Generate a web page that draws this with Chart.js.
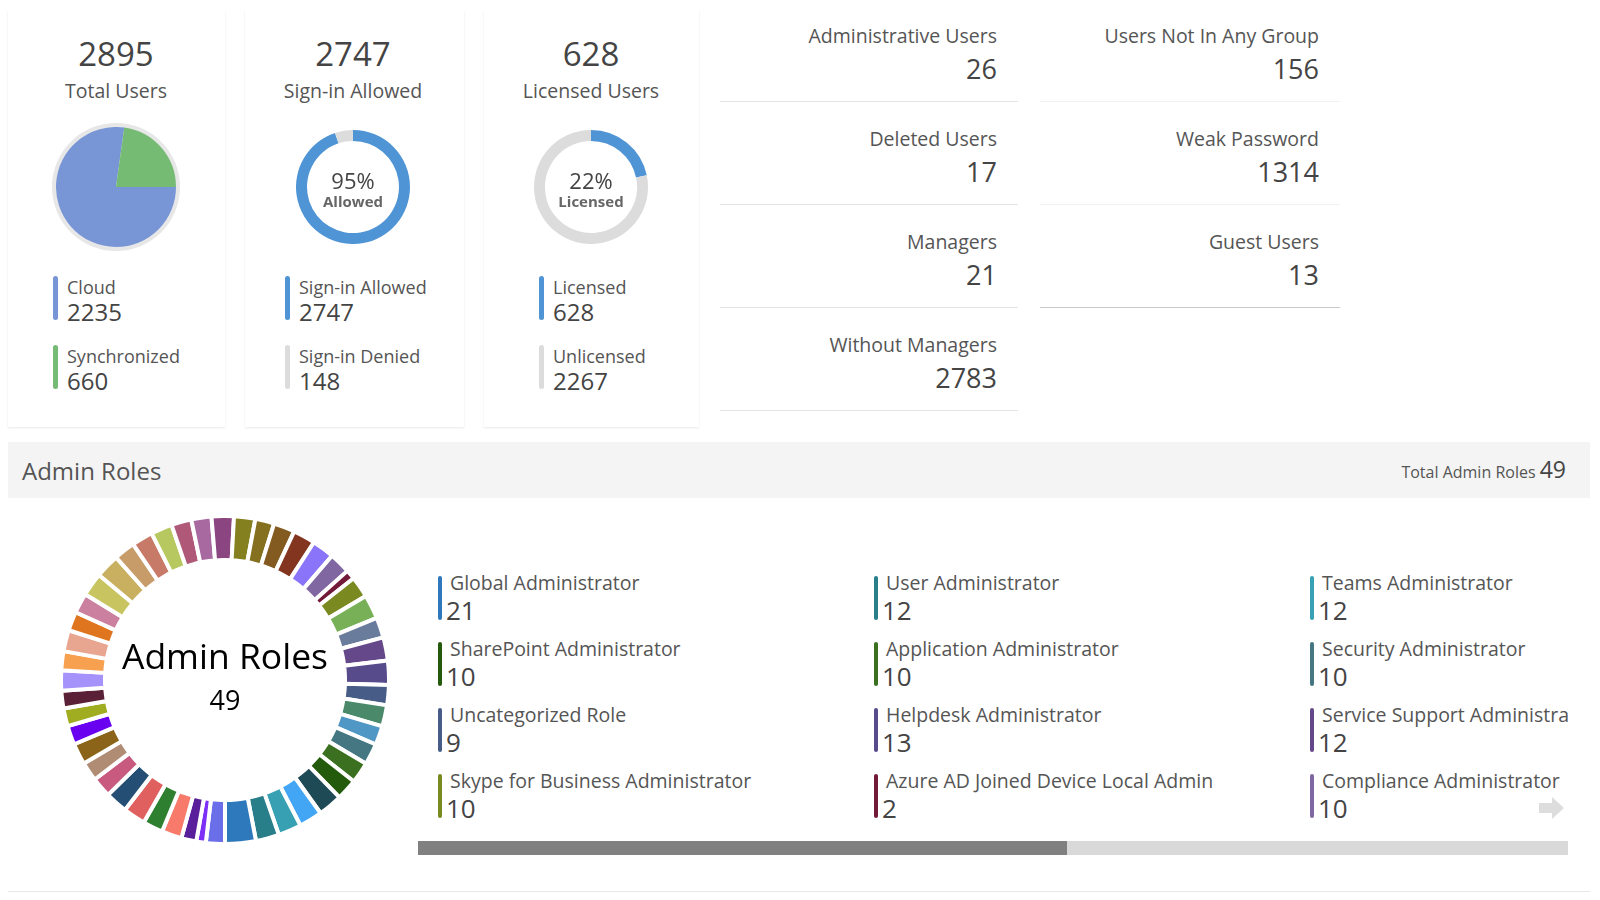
<!DOCTYPE html>
<html>
<head>
<meta charset="utf-8">
<script src="https://cdn.jsdelivr.net/npm/chart.js@4.4.0/dist/chart.umd.min.js"></script>
<style>
  body { margin: 0; width: 1600px; height: 900px; background: #fff; font-family: "Open Sans", sans-serif; color: #555; overflow: hidden; position: relative; }
  .abs { position: absolute; line-height: 1; white-space: nowrap; }
  .card { position: absolute; top: 10px; height: 417px; background: #fff; box-shadow: 0 1px 2px rgba(0,0,0,0.09); }
  .big { font-size: 33px; color: #444; text-align: center; width: 300px; }
  .sub { font-size: 19.5px; color: #555; text-align: center; width: 300px; }
  .bar { position: absolute; width: 5px; border-radius: 3px; }
  .lgLabel { font-size: 18px; color: #555; }
  .lgValue { font-size: 24px; color: #444; }
  .roleLabel { font-size: 19.5px; color: #555; }
  .roleValue { font-size: 26px; color: #444; }
  .statBox { position: absolute; height: 100px; border-bottom: 1px solid #e4e4e4; }
  .statLabel { font-size: 19.5px; color: #555; text-align: right; }
  .statValue { font-size: 27px; color: #444; text-align: right; }
  .chartBox { position: absolute; }
  #roleLegend { position: absolute; left: 418px; top: 570px; width: 1150px; height: 262px; overflow: hidden; }
  .roleItem { position: absolute; width: 430px; height: 60px; }
</style>
</head>
<body>

<div class="card" style="left:8px;width:217px"></div>
<div class="card" style="left:245px;width:219px"></div>
<div class="card" style="left:484px;width:215px"></div>

<div id="top"></div>

<div class="abs" style="left:8px;top:442px;width:1582px;height:56px;background:#f4f4f4"></div>
<div class="abs" style="left:22px;top:459px;font-size:24px;color:#555">Admin Roles</div>
<div class="abs" id="totalRoles" style="right:34px;top:458px;color:#555;display:flex;align-items:baseline"></div>

<div class="chartBox" style="left:59px;top:514px;width:332px;height:332px"><canvas id="rolesChart"></canvas></div>
<div class="abs" style="left:75px;top:638px;width:300px;text-align:center;font-size:35.5px;color:#000">Admin Roles</div>
<div class="abs" id="rolesCenter" style="left:75px;top:686px;width:300px;text-align:center;font-size:27px;color:#000"></div>

<div id="roleLegend"></div>
<div class="abs" style="left:418px;top:841px;width:1150px;height:14px;background:#d9d9d9"></div>
<div class="abs" style="left:418px;top:841px;width:649px;height:14px;background:#808080"></div>
<svg class="abs" style="left:1539px;top:797px" width="26" height="22" viewBox="0 0 26 22">
  <path d="M0 6 H13 V0 L25 11 L13 22 V16 H0 Z" fill="#dddddd"/>
</svg>
<div class="abs" style="left:8px;top:891px;width:1582px;height:1px;background:#e8e8e8"></div>

<script>
// user overview
var userSplitLabels = ['Cloud', 'Synchronized'];
var userSplitValues = [2235, 660];
var signInLabels = ['Sign-in Allowed', 'Sign-in Denied'];
var signInValues = [2747, 148];
var licenseLabels = ['Licensed', 'Unlicensed'];
var licenseValues = [628, 2267];

var statLabelsLeft = ['Administrative Users', 'Deleted Users', 'Managers', 'Without Managers'];
var statValuesLeft = [26, 17, 21, 2783];
var statLabelsRight = ['Users Not In Any Group', 'Weak Password', 'Guest Users'];
var statValuesRight = [156, 1314, 13];

// admin roles, in legend order (row by row, 5 per row)
var roleNames = [
  'Global Administrator', 'User Administrator', 'Teams Administrator', 'Exchange Administrator', 'Intune Administrator',
  'SharePoint Administrator', 'Application Administrator', 'Security Administrator', 'Billing Administrator', 'Cloud Application Administrator',
  'Uncategorized Role', 'Helpdesk Administrator', 'Service Support Administrator', 'Reports Reader', 'Power BI Administrator',
  'Skype for Business Administrator', 'Azure AD Joined Device Local Admin', 'Compliance Administrator', 'Password Administrator', 'Privileged Role Administrator',
  'Security Reader', 'Guest Inviter', 'Conditional Access Administrator', 'Directory Readers', 'Directory Writers',
  'Authentication Administrator', 'License Administrator', 'Groups Administrator', 'Message Center Reader', 'Dynamics 365 Administrator',
  'Power Platform Administrator', 'Search Administrator', 'Search Editor', 'Insights Administrator', 'Printer Administrator',
  'Office Apps Administrator', 'Global Reader', 'Security Operator', 'Knowledge Administrator', 'Network Administrator',
  'Teams Communications Administrator', 'Teams Devices Administrator', 'Hybrid Identity Administrator', 'Application Developer', 'Kaizala Administrator',
  'Azure Information Protection Administrator', 'External Identity Provider Administrator', 'Privileged Authentication Administrator', 'Device Administrators'
];
var roleCounts = [
  21, 12, 12, 12, 13,
  10, 10, 10, 8, 10,
  9, 13, 12, 9, 13,
  10, 2, 10, 11, 11,
  10, 8, 10, 11, 9,
  9, 10, 10, 10, 13,
  12, 9, 8, 10, 8,
  9, 7, 7, 8, 10,
  8, 9, 11, 11, 9,
  9, 5, 2, 8
];

var roleColors = [
  '#2e78bc', '#287f89', '#37a1b3', '#42a6f5', '#1e4a55',
  '#245a0c', '#3a7020', '#457782', '#5097c5', '#4a8a6a',
  '#475c86', '#574b8c', '#654889', '#6a7c9c', '#78b058',
  '#7a8a21', '#731a38', '#8067a2', '#8a75fa', '#843520',
  '#835a20', '#857020', '#848020', '#8b4580', '#a868a0',
  '#b05878', '#b8c860', '#c87a68', '#c89c68', '#c8b060',
  '#c8c460', '#cc80a0', '#e07520', '#e8a590', '#f7a050',
  '#a593fb', '#5a2035', '#a0ad20', '#6a00f0', '#8b6419',
  '#b08c74', '#c85a80', '#254e74', '#e06060', '#2e8030',
  '#f77a6b', '#5a1f9a', '#7b2ff7', '#6a6ee8'
];

var blue = '#4f94d4', grey = '#dcdcdc';

function sum(a) { return a.reduce(function (s, v) { return s + v; }, 0); }
function el(html) { document.getElementById('top').insertAdjacentHTML('beforeend', html); }

var totalUsers = sum(userSplitValues);

// three summary cards
var cards = [
  { cx: 116, big: totalUsers, sub: 'Total Users', labels: userSplitLabels, values: userSplitValues, colors: ['#7896d6', '#76bb74'], barX: 53 },
  { cx: 353, big: signInValues[0], sub: 'Sign-in Allowed', labels: signInLabels, values: signInValues, colors: [blue, grey], barX: 285,
    pct: Math.round(signInValues[0] / sum(signInValues) * 100), word: 'Allowed' },
  { cx: 591, big: licenseValues[0], sub: 'Licensed Users', labels: licenseLabels, values: licenseValues, colors: [blue, grey], barX: 539,
    pct: Math.round(licenseValues[0] / sum(licenseValues) * 100), word: 'Licensed' }
];

cards.forEach(function (c, i) {
  el('<div class="abs big" style="left:' + (c.cx - 150) + 'px;top:37px">' + c.big + '</div>');
  el('<div class="abs sub" style="left:' + (c.cx - 150) + 'px;top:81px">' + c.sub + '</div>');
  c.labels.forEach(function (lab, j) {
    var y = 276 + j * 69;
    el('<div class="bar" style="left:' + c.barX + 'px;top:' + y + 'px;height:44px;background:' + c.colors[j] + '"></div>');
    el('<div class="abs lgLabel" style="left:' + (c.barX + 14) + 'px;top:' + (y + 2) + 'px">' + lab + '</div>');
    el('<div class="abs lgValue" style="left:' + (c.barX + 14) + 'px;top:' + (y + 24) + 'px">' + c.values[j] + '</div>');
  });
  if (i === 0) {
    el('<div class="abs" style="left:' + (c.cx - 64) + 'px;top:123px;width:128px;height:128px;border-radius:50%;background:#e7e7e7"></div>');
    el('<div class="chartBox" style="left:' + (c.cx - 60) + 'px;top:127px;width:120px;height:120px"><canvas id="chart' + i + '"></canvas></div>');
  } else {
    el('<div class="chartBox" style="left:' + (c.cx - 57) + 'px;top:130px;width:114px;height:114px"><canvas id="chart' + i + '"></canvas></div>');
    el('<div class="abs" style="left:' + (c.cx - 60) + 'px;top:169px;width:120px;text-align:center;font-size:22px;color:#444">' + c.pct + '%</div>');
    el('<div class="abs" style="left:' + (c.cx - 60) + 'px;top:194px;width:120px;text-align:center;font-size:15px;font-weight:bold;color:#666">' + c.word + '</div>');
  }
});

// stat boxes
function statColumn(labels, values, x0, x1, lastDark) {
  labels.forEach(function (lab, i) {
    var top = 1 + i * 103;
    var border = (lastDark && i === labels.length - 1) ? '#c8c8c8' : (lastDark ? '#f1f1f1' : '#e4e4e4');
    el('<div class="statBox" style="left:' + x0 + 'px;top:' + top + 'px;width:' + (x1 - x0) + 'px;border-bottom-color:' + border + '"></div>');
    el('<div class="abs statLabel" style="left:' + x0 + 'px;width:' + (x1 - x0 - 21) + 'px;top:' + (26 + i * 103) + 'px">' + lab + '</div>');
    el('<div class="abs statValue" style="left:' + x0 + 'px;width:' + (x1 - x0 - 21) + 'px;top:' + (55 + i * 103) + 'px">' + values[i] + '</div>');
  });
}
statColumn(statLabelsLeft, statValuesLeft, 720, 1018, false);
statColumn(statLabelsRight, statValuesRight, 1040, 1340, true);

var baseOptions = {
  responsive: true,
  maintainAspectRatio: false,
  animation: false,
  events: [],
  layout: { padding: 0 },
  plugins: { legend: { display: false }, tooltip: { enabled: false } }
};

new Chart(document.getElementById('chart0'), {
  type: 'pie',
  data: { labels: userSplitLabels, datasets: [{ data: userSplitValues, backgroundColor: cards[0].colors, borderWidth: 0 }] },
  options: Object.assign({}, baseOptions, { rotation: 90 })
});
new Chart(document.getElementById('chart1'), {
  type: 'doughnut',
  data: { labels: signInLabels, datasets: [{ data: signInValues, backgroundColor: [blue, grey], borderWidth: 0 }] },
  options: Object.assign({}, baseOptions, { cutout: 46 })
});
new Chart(document.getElementById('chart2'), {
  type: 'doughnut',
  data: { labels: licenseLabels, datasets: [{ data: licenseValues, backgroundColor: [blue, grey], borderWidth: 0 }] },
  options: Object.assign({}, baseOptions, { cutout: 46 })
});

// admin roles ring: runs anticlockwise from 6 o'clock, slices sized by sqrt of member count
var ringLabels = roleNames.slice().reverse();
var ringData = roleCounts.map(function (v) { return Math.sqrt(v); }).reverse();
var ringColors = roleColors.slice().reverse();

new Chart(document.getElementById('rolesChart'), {
  type: 'doughnut',
  data: { labels: ringLabels, datasets: [{ data: ringData, backgroundColor: ringColors, borderColor: '#ffffff', borderWidth: 4 }] },
  options: Object.assign({}, baseOptions, { cutout: 120, rotation: 180 })
});

document.getElementById('rolesCenter').textContent = roleNames.length;
document.getElementById('totalRoles').innerHTML =
  '<span style="font-size:16px">Total Admin Roles&nbsp;</span><span style="font-size:23px;color:#444">' + roleNames.length + '</span>';

// role legend: 5 per row, only the window that is scrolled into view is drawn (3 columns, 4 rows)
var legend = document.getElementById('roleLegend');
roleNames.forEach(function (name, i) {
  var col = i % 5, row = Math.floor(i / 5);
  if (col > 2 || row > 3) return;
  var html = '<div class="roleItem" style="left:' + (20 + col * 436) + 'px;top:' + (row * 66) + 'px">' +
    '<div class="bar" style="left:0;top:6px;width:4px;height:44px;background:' + roleColors[i] + '"></div>' +
    '<div class="abs roleLabel" style="left:12px;top:3px">' + name + '</div>' +
    '<div class="abs roleValue" style="left:8px;top:27px">' + roleCounts[i] + '</div></div>';
  legend.insertAdjacentHTML('beforeend', html);
});
</script>
</body>
</html>
